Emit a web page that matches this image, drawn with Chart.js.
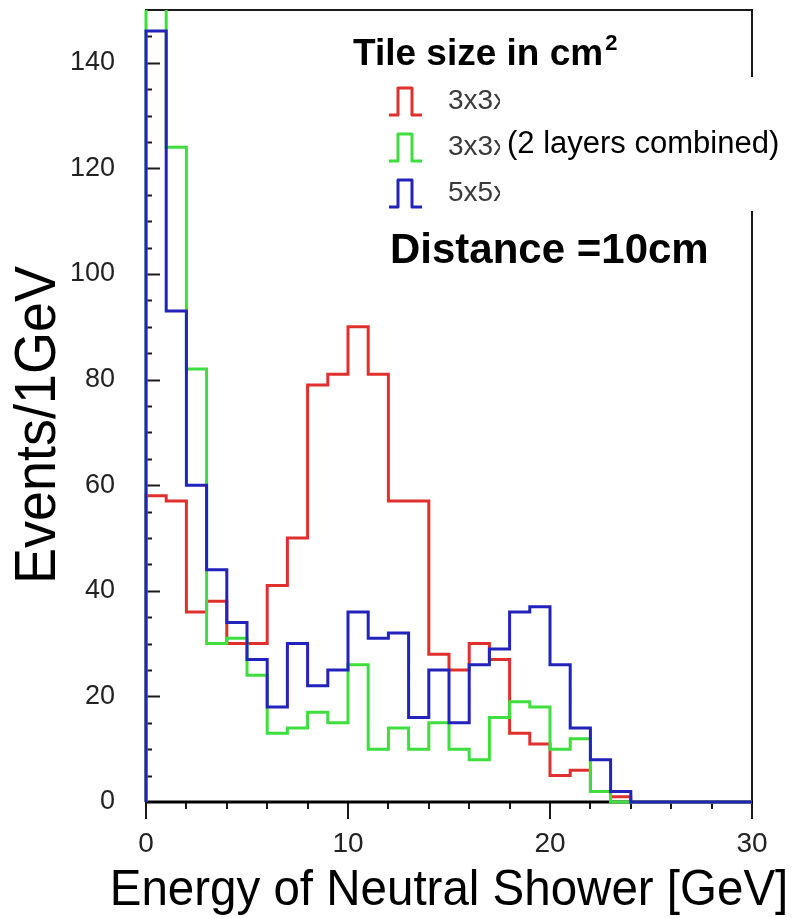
<!DOCTYPE html>
<html>
<head>
<meta charset="utf-8">
<title>Energy of Neutral Shower</title>
<script src="https://cdn.jsdelivr.net/npm/chart.js@4.4.1/dist/chart.umd.min.js"></script>
<style>
  html, body { margin: 0; padding: 0; background: #fff; }
  #wrap { width: 798px; height: 918px; }
</style>
</head>
<body>
<div id="wrap"><canvas id="chart-shower" width="798" height="918"></canvas></div>
<script>
(function () {
  'use strict';

  // 1 GeV bins from 0 to 30 GeV
  const binEdges = [0, 1, 2, 3, 4, 5, 6, 7, 8, 9, 10, 11, 12, 13, 14, 15, 16, 17, 18, 19, 20,
    21, 22, 23, 24, 25, 26, 27, 28, 29, 30];

  const tile3x3 = [58, 57, 36, 38, 30, 30, 41, 50, 79, 81, 90, 81, 57, 57, 28, 25, 30, 27, 13, 11,
    5, 6, 2, 1, 0, 0, 0, 0, 0, 0];
  // first bin runs off the top of the frame
  const tile3x3Combined = [155, 124, 82, 30, 31, 24, 13, 14, 17, 15, 26, 10, 14, 10, 15, 10, 8, 16, 19, 18,
    10, 12, 2, 0, 0, 0, 0, 0, 0, 0];
  const tile5x5 = [146, 93, 60, 44, 34, 27, 18, 30, 22, 25, 36, 31, 32, 16, 25, 15, 26, 29, 36, 37,
    26, 14, 8, 2, 0, 0, 0, 0, 0, 0];

  const xTickValues = [0, 10, 20, 30];
  const yTickValues = [0, 20, 40, 60, 80, 100, 120, 140];
  const legendLabels = ['3x3x3', '3x3x3', '5x5x5'];

  const red = '#e0302e';
  const green = '#3ede3e';
  const blue = '#2222bc';
  const font = "'Liberation Sans', Arial, Helvetica, sans-serif";

  // histogram outline: value of each bin held until its right edge
  function toSteps(values) {
    const pts = [{ x: binEdges[0], y: 0 }];
    values.forEach((v, i) => pts.push({ x: binEdges[i + 1], y: v }));
    return pts;
  }

  function stepDataset(label, values, color, order) {
    return {
      label: label,
      data: toSteps(values),
      borderColor: color,
      backgroundColor: color,
      borderWidth: 3,
      stepped: 'after',
      pointRadius: 0,
      fill: false,
      order: order,
      clip: { left: 2, top: 0, right: 2, bottom: 2 },
    };
  }

  const frame = {
    id: 'frame',
    beforeDraw(chart) {
      const ctx = chart.ctx;
      ctx.save();
      ctx.fillStyle = '#fff';
      ctx.fillRect(0, 0, chart.width, chart.height);
      ctx.restore();
    },
    beforeDatasetsDraw(chart) {
      const { ctx, chartArea: a, scales: { x, y } } = chart;
      ctx.save();
      ctx.strokeStyle = '#1a1a1a';
      ctx.lineWidth = 2;
      ctx.beginPath();
      ctx.moveTo(a.left, a.bottom);
      ctx.lineTo(a.left, a.top);
      ctx.lineTo(a.right, a.top);
      ctx.lineTo(a.right, a.bottom);
      ctx.stroke();

      // y ticks point inward, minor every 5
      for (let v = 5; v < y.max; v += 5) {
        const py = Math.round(y.getPixelForValue(v)) + 0.5;
        const len = v % 20 === 0 ? 14 : 6;
        ctx.beginPath();
        ctx.moveTo(a.left, py);
        ctx.lineTo(a.left + len, py);
        ctx.stroke();
      }
      // x ticks point outward, minor every 2
      for (let v = 0; v <= x.max; v += 2) {
        const px = Math.round(x.getPixelForValue(v));
        const len = v % 10 === 0 ? 17 : 7;
        ctx.beginPath();
        ctx.moveTo(px, a.bottom);
        ctx.lineTo(px, a.bottom + len);
        ctx.stroke();
      }
      ctx.lineWidth = 3;
      ctx.strokeStyle = '#000';
      ctx.beginPath();
      ctx.moveTo(a.left, a.bottom);
      ctx.lineTo(a.right + 1, a.bottom);
      ctx.stroke();
      ctx.restore();
    },
    afterDraw(chart) {
      const { ctx, chartArea: a } = chart;
      ctx.save();

      // axis titles, slightly condensed like the original
      ctx.fillStyle = '#000';
      ctx.font = '50px ' + font;
      ctx.textAlign = 'center';
      ctx.textBaseline = 'alphabetic';
      ctx.save();
      ctx.translate((a.left + a.right) / 2, 905);
      ctx.scale(0.95, 1);
      ctx.fillText('Energy of Neutral Shower [GeV]', 0, 0);
      ctx.restore();

      ctx.font = '58px ' + font;
      ctx.save();
      ctx.translate(55, 425);
      ctx.rotate(-Math.PI / 2);
      ctx.scale(0.93, 1);
      ctx.fillText('Events/1GeV', 0, 0);
      ctx.restore();

      // legend title
      ctx.textAlign = 'left';
      ctx.font = 'bold 37px ' + font;
      const title = 'Tile size in cm';
      ctx.fillText(title, 353, 65);
      const tw = ctx.measureText(title).width;
      ctx.font = 'bold 22px ' + font;
      ctx.fillText('2', 353 + tw + 2, 50);

      // legend rows
      const rowY = [101, 147, 193];
      const colors = [red, green, blue];
      rowY.forEach((cy, i) => {
        ctx.strokeStyle = colors[i];
        ctx.lineWidth = 3;
        ctx.lineJoin = 'round';
        ctx.beginPath();
        ctx.moveTo(389, cy + 14);
        ctx.lineTo(398, cy + 14);
        ctx.lineTo(398, cy - 13);
        ctx.lineTo(412, cy - 13);
        ctx.lineTo(412, cy + 14);
        ctx.lineTo(422, cy + 14);
        ctx.stroke();

        ctx.save();
        ctx.beginPath();
        ctx.rect(440, cy - 25, 60, 50);
        ctx.clip();
        ctx.fillStyle = '#3a3a3a';
        ctx.font = '28px ' + font;
        ctx.textBaseline = 'middle';
        ctx.fillText(legendLabels[i], 448, cy);
        ctx.restore();
      });

      // pasted-over note box
      ctx.fillStyle = '#fff';
      ctx.fillRect(500, 77, chart.width - 500, 134);
      ctx.fillStyle = '#000';
      ctx.font = '31px ' + font;
      ctx.textBaseline = 'middle';
      ctx.fillText('(2 layers combined)', 507, 144);

      ctx.font = 'bold 42px ' + font;
      ctx.textBaseline = 'alphabetic';
      ctx.fillText('Distance =10cm', 390, 263);
      ctx.restore();
    },
  };

  new Chart(document.getElementById('chart-shower'), {
    type: 'line',
    data: {
      datasets: [
        stepDataset('3x3', tile3x3, red, 2),
        stepDataset('3x3 (2 layers combined)', tile3x3Combined, green, 1),
        stepDataset('5x5', tile5x5, blue, 0),
      ],
    },
    options: {
      responsive: false,
      animation: false,
      layout: { padding: { left: 0, right: 46, top: 10, bottom: 0 } },
      plugins: {
        legend: { display: false },
        tooltip: { enabled: false },
      },
      scales: {
        x: {
          type: 'linear',
          min: 0,
          max: 30,
          grid: { display: false, drawTicks: false },
          border: { display: false },
          afterBuildTicks: (s) => { s.ticks = xTickValues.map((v) => ({ value: v })); },
          afterFit: (s) => { s.height = 116; s.paddingLeft = 0; s.paddingRight = 0; },
          ticks: { color: '#222', font: { family: font, size: 28 }, padding: 25, maxRotation: 0 },
        },
        y: {
          type: 'linear',
          min: 0,
          max: 150,
          grid: { display: false, drawTicks: false },
          border: { display: false },
          afterBuildTicks: (s) => { s.ticks = yTickValues.map((v) => ({ value: v })); },
          afterFit: (s) => { s.width = 146; s.paddingTop = 0; s.paddingBottom = 0; },
          ticks: { color: '#222', font: { family: font, size: 27 }, padding: 31 },
        },
      },
    },
    plugins: [frame],
  });
})();
</script>
</body>
</html>
